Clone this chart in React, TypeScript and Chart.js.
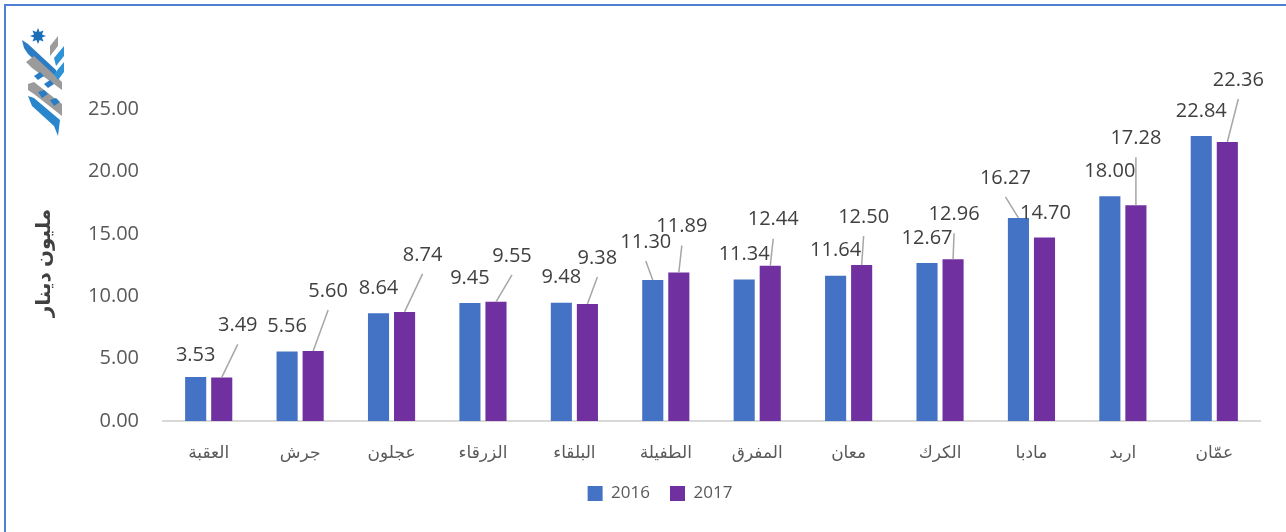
import React, { useEffect, useRef } from "react";
import { Chart, registerables } from "chart.js";

Chart.register(...registerables);

// ---- data ----
const CATEGORIES = ["العقبة", "جرش", "عجلون", "الزرقاء", "البلقاء", "الطفيلة", "المفرق", "معان", "الكرك", "مادبا", "اربد", "عمّان"];
const SERIES_2016 = [3.53, 5.56, 8.64, 9.45, 9.48, 11.3, 11.34, 11.64, 12.67, 16.27, 18.0, 22.84];
const SERIES_2017 = [3.49, 5.6, 8.74, 9.55, 9.38, 11.89, 12.44, 12.5, 12.96, 14.7, 17.28, 22.36];
const SERIES_NAMES = ["2016", "2017"];
const Y_TICKS = [0, 5, 10, 15, 20, 25];
const Y_TITLE = "مليون دينار";

// ---- label placement (pixel nudges of value labels relative to bar top) ----
const D = -25;
const NUDGE_2016: [number, number][] = [
  [0, -22], [0, D], [0, D], [0, D], [0, D], [-7, -38], [0, D], [0, D], [0, D], [-13, -40], [0, D], [0, D],
];
const NUDGE_2017: [number, number][] = [
  [16, -52], [15, -60], [18, -57], [16, -46], [10, -46], [3, -46], [3, -46], [2, -48], [1, -45], [1, -24], [0, -67], [11, -62],
];
const NUDGES = [NUDGE_2016, NUDGE_2017];

const COLORS = ["#4472C4", "#7030A0"];
const FONT = "'Open Sans', 'DejaVu Sans', sans-serif";

const labelPlugin = {
  id: "barValueLabels",
  afterDatasetsDraw(chart: any) {
    const ctx = chart.ctx as CanvasRenderingContext2D;
    ctx.save();
    ctx.font = `20px ${FONT}`;
    ctx.textAlign = "center";
    ctx.textBaseline = "middle";
    chart.data.datasets.forEach((ds: any, di: number) => {
      const meta = chart.getDatasetMeta(di);
      meta.data.forEach((bar: any, i: number) => {
        const [dx, dy] = NUDGES[di][i];
        const lx = bar.x + dx;
        const ly = bar.y + dy;
        if (Math.abs(dy) > 30) {
          ctx.beginPath();
          ctx.strokeStyle = "#a6a6a6";
          ctx.lineWidth = 1.5;
          ctx.moveTo(lx, ly + 19);
          ctx.lineTo(bar.x, bar.y);
          ctx.stroke();
        }
        ctx.fillStyle = "#404040";
        ctx.fillText((ds.data[i] as number).toFixed(2), lx, ly);
      });
    });
    ctx.restore();
  },
};

const yTitlePlugin = {
  id: "yTitle",
  afterDraw(chart: any) {
    const ctx = chart.ctx as CanvasRenderingContext2D;
    const area = chart.chartArea;
    ctx.save();
    ctx.translate(44, (area.top + area.bottom) / 2 - 2);
    ctx.rotate(-Math.PI / 2);
    ctx.font = `bold 20px ${FONT}`;
    ctx.fillStyle = "#404040";
    ctx.textAlign = "center";
    ctx.textBaseline = "middle";
    ctx.fillText(Y_TITLE, 0, 0);
    ctx.restore();
  },
};

function Logo() {
  return (
    <svg
      width={46}
      height={112}
      viewBox="0 0 46 112"
      style={{ position: "absolute", left: 20, top: 26 }}
    >
      <polygon
        points="18,2 19.6,6 23.5,4.5 22,8.4 26,10 22,11.6 23.5,15.5 19.6,14 18,18 16.4,14 12.5,15.5 14,11.6 10,10 14,8.4 12.5,4.5 16.4,6"
        fill="#1b6fb8"
      />
      <polygon points="2,14 8,18 36,44 36,54 8,28 4,22" fill="#2a7cc4" />
      <polygon points="30,20 38,10 38,20 30,30" fill="#9b9b9b" />
      <polygon points="34,32 44,20 44,30 36,40" fill="#2e93d6" />
      <polygon points="6,36 14,30 42,56 42,64 12,42" fill="#9b9b9b" />
      <polygon points="14,50 20,46 24,50 18,54" fill="#2a7cc4" />
      <polygon points="24,58 30,54 34,58 28,62" fill="#2a7cc4" />
      <polygon points="34,48 44,36 44,46 38,54" fill="#2e93d6" />
      <polygon points="8,58 14,56 42,78 42,90 14,68 8,64" fill="#9b9b9b" />
      <polygon points="18,66 24,64 28,68 22,72" fill="#2a7cc4" />
      <polygon points="30,74 36,72 40,76 34,80" fill="#2a7cc4" />
      <polygon points="8,70 14,72 40,94 38,110 34,100 12,80" fill="#2a86cc" />
    </svg>
  );
}

export default function App() {
  const canvasRef = useRef<HTMLCanvasElement | null>(null);

  useEffect(() => {
    if (!canvasRef.current) return;
    const chart = new Chart(canvasRef.current, {
      type: "bar",
      data: {
        labels: CATEGORIES,
        datasets: [
          {
            label: SERIES_NAMES[0],
            data: SERIES_2016,
            backgroundColor: COLORS[0],
            borderWidth: 0,
            categoryPercentage: 0.57,
            barPercentage: 0.81,
          },
          {
            label: SERIES_NAMES[1],
            data: SERIES_2017,
            backgroundColor: COLORS[1],
            borderWidth: 0,
            categoryPercentage: 0.57,
            barPercentage: 0.81,
          },
        ],
      },
      options: {
        responsive: false,
        animation: false,
        devicePixelRatio: 1,
        layout: { padding: { left: 60, top: 109, right: 26, bottom: 20 } },
        plugins: {
          legend: {
            position: "bottom",
            labels: {
              boxWidth: 15,
              boxHeight: 15,
              padding: 20,
              color: "#595959",
              font: { family: FONT, size: 17 },
            },
          },
          tooltip: { enabled: false },
        },
        scales: {
          x: {
            grid: { display: false, drawTicks: false },
            border: { display: true, color: "#d9d9d9", width: 2 },
            ticks: {
              color: "#595959",
              font: { family: FONT, size: 17 },
              padding: 22,
              maxRotation: 0,
            },
            afterFit: (axis: any) => {
              axis.height = 44;
            },
          },
          y: {
            min: 0,
            max: 25,
            grid: { display: false, drawTicks: false },
            border: { display: false },
            afterBuildTicks: (axis: any) => {
              axis.ticks = Y_TICKS.map((v) => ({ value: v }));
            },
            ticks: {
              color: "#595959",
              font: { family: FONT, size: 20 },
              padding: 24,
              callback: (v: any) => Number(v).toFixed(2),
            },
            afterFit: (axis: any) => {
              axis.width = 103;
            },
          },
        },
      },
      plugins: [labelPlugin, yTitlePlugin],
    } as any);
    return () => chart.destroy();
  }, []);

  return (
    <div
      style={{
        position: "fixed",
        left: 0,
        top: 0,
        width: 1286,
        height: 532,
        background: "#ffffff",
        overflow: "hidden",
      }}
    >
      <canvas ref={canvasRef} width={1286} height={532} style={{ position: "absolute", left: 0, top: 0 }} />
      <div
        style={{
          position: "absolute",
          left: 4,
          top: 4,
          right: 0,
          bottom: 0,
          borderLeft: "2px solid #4d7fd2",
          borderTop: "2px solid #4d7fd2",
          pointerEvents: "none",
        }}
      />
      <Logo />
    </div>
  );
}
